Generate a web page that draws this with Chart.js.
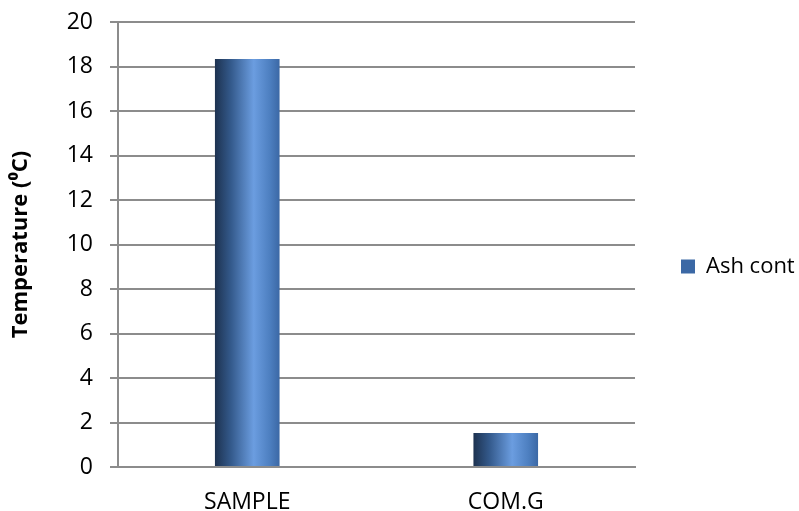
<!DOCTYPE html>
<html>
<head>
<meta charset="utf-8">
<script src="https://cdn.jsdelivr.net/npm/chart.js@4"></script>
<style>
  html, body { margin: 0; padding: 0; background: #fff; }
  #wrap { width: 799px; height: 511px; }
</style>
</head>
<body>
<div id="wrap"><canvas id="c" width="799" height="511"></canvas></div>
<script>
// Ash content per sample
const categories = ['SAMPLE', 'COM.G'];
const ashValues = [18.34, 1.53];
const seriesName = 'Ash cont';
const yTitle = 'Temperature (\u2070C)';
const yMin = 0, yMax = 20, yStep = 2;

const BAR_FRACTION = 0.25;
const FONT = '"Open Sans", "Liberation Sans", sans-serif';
const PAD = { top: 22, left: 6, right: 0, bottom: 0 };

// Horizontal cylinder-like shading for each bar, positioned from the x scale
function barFill(ctx) {
  const chart = ctx.chart;
  const area = chart.chartArea;
  if (ctx.dataIndex === undefined || !area) return '#4f81bd';
  const xs = chart.scales.x;
  const c = xs.getPixelForValue(ctx.dataIndex);
  const w = (area.width / categories.length) * BAR_FRACTION;
  const g = chart.ctx.createLinearGradient(c - w / 2, 0, c + w / 2, 0);
  g.addColorStop(0, '#1d3250');
  g.addColorStop(0.25, '#345a8c');
  g.addColorStop(0.6, '#6b9de0');
  g.addColorStop(0.85, '#4d7fc0');
  g.addColorStop(1, '#3b68a5');
  return g;
}

// Fixed-width legend column on the right
const legendPlacement = {
  id: 'legendPlacement',
  beforeLayout(chart) {
    const lg = chart.legend;
    if (lg && !lg._placed) {
      const fit = lg.fit.bind(lg);
      lg.fit = function () { fit(); this.width = 164; };
      lg._placed = true;
    }
  }
};

new Chart(document.getElementById('c'), {
  type: 'bar',
  data: {
    labels: categories,
    datasets: [{
      label: seriesName,
      data: ashValues,
      backgroundColor: barFill,
      borderWidth: 0,
      categoryPercentage: 1,
      barPercentage: BAR_FRACTION
    }]
  },
  plugins: [legendPlacement],
  options: {
    responsive: false,
    animation: false,
    devicePixelRatio: 1,
    layout: { padding: PAD },
    plugins: {
      tooltip: { enabled: false },
      legend: {
        position: 'right',
        labels: {
          boxWidth: 14,
          boxHeight: 14,
          padding: 46,
          color: '#000',
          font: { family: FONT, size: 22 }
        }
      }
    },
    scales: {
      x: {
        grid: { display: false },
        border: { display: true, color: '#8c8c8c', width: 2 },
        ticks: { color: '#000', font: { family: FONT, size: 23 }, padding: 14 },
        afterFit(s) {
          s.height = 511 - 467 - PAD.bottom;
          s.paddingLeft = 0; s.paddingRight = 0;
        }
      },
      y: {
        min: yMin,
        max: yMax,
        ticks: {
          stepSize: yStep,
          color: '#000',
          font: { family: FONT, size: 23 },
          padding: 17
        },
        grid: { color: '#8c8c8c', lineWidth: 2, tickLength: 8 },
        border: { display: true, color: '#8c8c8c', width: 2 },
        title: {
          display: true,
          text: yTitle,
          color: '#000',
          font: { family: FONT, size: 22, weight: 'bold' },
          padding: { top: 2, bottom: 0 }
        },
        afterFit(s) {
          s.width = 118 - PAD.left;
          s.paddingTop = 0; s.paddingBottom = 0;
        }
      }
    }
  }
});
</script>
</body>
</html>
